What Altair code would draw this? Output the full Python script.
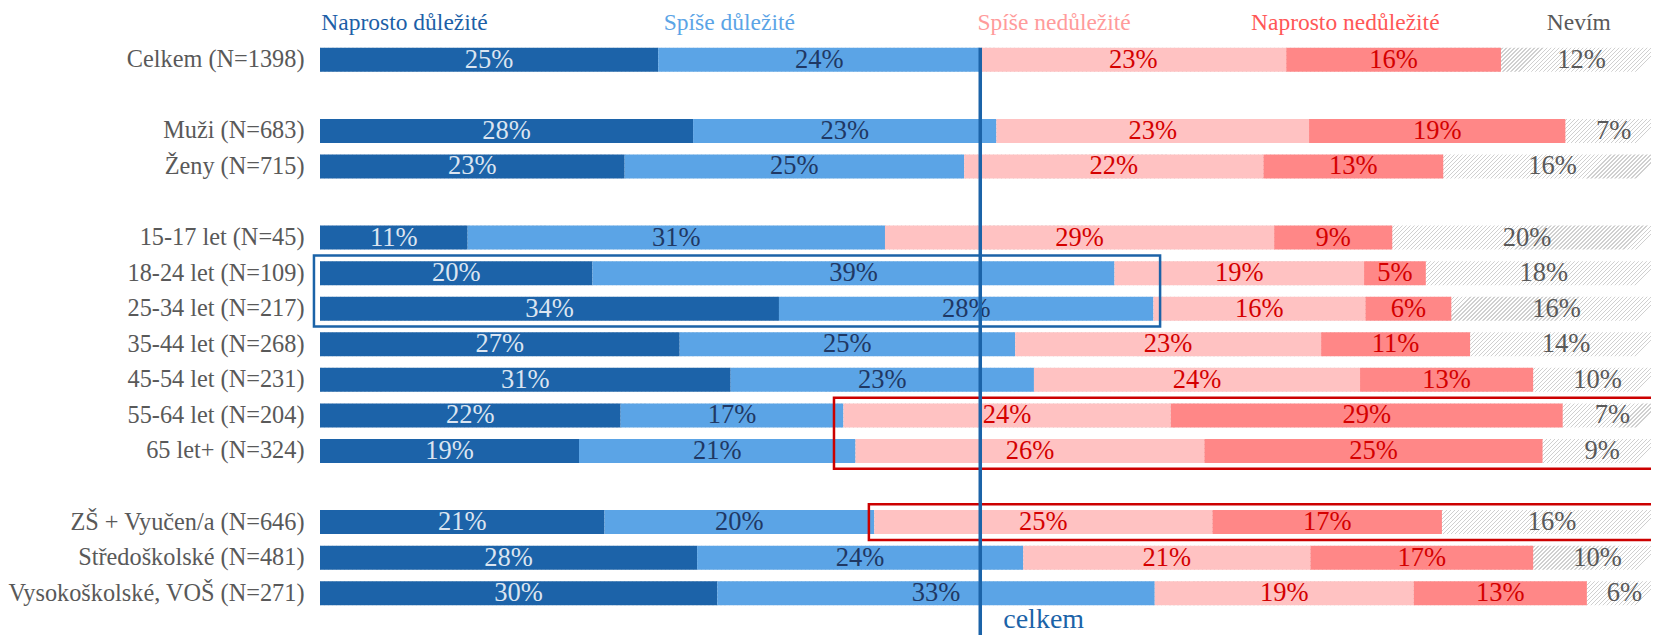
import json
import altair as alt
import pandas as pd

# ---------------- data ----------------
rows = [
    "Celkem (N=1398)", "",
    "Muži (N=683)", "Ženy (N=715)", "",
    "15-17 let (N=45)", "18-24 let (N=109)", "25-34 let (N=217)", "35-44 let (N=268)",
    "45-54 let (N=231)", "55-64 let (N=204)", "65 let+ (N=324)", "",
    "ZŠ + Vyučen/a (N=646)", "Středoškolské (N=481)", "Vysokoškolské, VOŠ (N=271)",
]
categories = ["Naprosto důležité", "Spíše důležité", "Spíše nedůležité",
              "Naprosto nedůležité", "Nevím"]

naprosto_dulezite   = [25.2, 27.8, 22.7, 11.0, 20.3, 34.2, 26.8, 30.6, 22.4, 19.3, 21.2, 28.1, 29.6]
spise_dulezite      = [24.0, 22.6, 25.3, 31.1, 38.9, 27.9, 25.0, 22.6, 16.6, 20.6, 20.1, 24.3, 32.6]
spise_nedulezite    = [22.8, 23.3, 22.3, 29.0, 18.6, 15.8, 22.8, 24.3, 24.4, 26.0, 25.2, 21.4, 19.3]
naprosto_nedulezite = [16.0, 19.1, 13.4, 8.8, 4.6, 6.4, 11.1, 12.9, 29.2, 25.2, 17.1, 16.6, 12.9]
nevim               = [12.0, 7.2, 16.3, 20.1, 17.6, 15.7, 14.3, 9.6, 7.4, 8.9, 16.4, 9.6, 5.6]

# header label positions (percent of axis)
header_pos = [6.3, 30.5, 54.7, 76.4, 93.8]

# highlighted boxes (annotation)
box_top_row = ["18-24 let (N=109)", "55-64 let (N=204)", "ZŠ + Vyučen/a (N=646)"]
box_bottom_row = ["25-34 let (N=217)", "65 let+ (N=324)", "ZŠ + Vyučen/a (N=646)"]
box_x_start = [-0.45, 38.3, 40.9]
box_x_end = [62.6, 101.0, 101.0]

# ---------------- styling ----------------
FONT = "Liberation Serif"
PX_PER_PCT = 13.42
W, H = 1331, 569
FULL_W = 100 * PX_PER_PCT
BAR = 24
bar_colors = ["#1c63a9", "#5ba4e6", "#ffc2c2", "#ff8787"]
text_colors = ["#dbe5f1", "#1f3864", "#d40000", "#d40000", "#595959"]
header_colors = ["#1d5fa7", "#5ba4e6", "#ff9b9b", "#ff5757", "#595959"]
BLUE = "#1b63a8"
RED = "#cc0000"

# ---------------- frames ----------------
groups = [r for r in rows if r]
series = [naprosto_dulezite, spise_dulezite, spise_nedulezite, naprosto_nedulezite, nevim]
recs = []
for gi, g in enumerate(groups):
    cum = 0.0
    for ci, c in enumerate(categories):
        v = series[ci][gi]
        recs.append({"group": g, "idx": rows.index(g), "cat": c, "val": v,
                     "start": cum, "end": cum + v, "mid": cum + v / 2, "base": 0.0})
        cum += v
seg = pd.DataFrame(recs)
seg_main = seg[seg.cat != "Nevím"]
seg_nev = seg[seg.cat == "Nevím"]

hdr = pd.DataFrame({"cat": categories, "hx": header_pos})

boxes = pd.DataFrame({
    "y0": [rows.index(r) - 0.5 for r in box_top_row],
    "y1": [rows.index(r) + 0.5 for r in box_bottom_row],
    "x0": box_x_start,
    "x1": box_x_end,
})
line_df = pd.DataFrame({"line": [naprosto_dulezite[0] + spise_dulezite[0]]})

# hatch pattern via striped linear gradient
N = 335
stops = []
for i in range(N):
    a, b, c = i / N, (i + 0.3) / N, (i + 1) / N
    stops += [
        {"offset": a, "color": "#d0d0d0"},
        {"offset": b, "color": "#d0d0d0"},
        {"offset": b, "color": "#ffffff"},
        {"offset": c, "color": "#ffffff"},
    ]
hatch = {"gradient": "linear", "x1": 0, "y1": 0, "x2": 1, "y2": BAR / FULL_W, "stops": stops}

x_scale = alt.Scale(domain=[0, W / PX_PER_PCT], nice=False, zero=False, padding=0)
y_scale = alt.Scale(domain=[-0.5, len(rows) - 0.5], reverse=True, nice=False, zero=False, padding=0)
label_expr = json.dumps(rows, ensure_ascii=False) + "[datum.value]"
y_axis = alt.Axis(values=[i for i, r in enumerate(rows) if r], labelExpr=label_expr,
                  ticks=False, domain=False, grid=False, title=None, labelFont=FONT,
                  labelFontSize=24.3, labelColor="#595959", labelPadding=16,
                  labelOverlap=False, labelFlush=False, labelLimit=0)

hatch_layer = alt.Chart(seg_nev).mark_bar(orient="horizontal", size=BAR, fill=hatch, clip=True).encode(
    x=alt.X("base:Q", scale=x_scale, axis=None),
    x2="end:Q",
    y=alt.Y("idx:Q", scale=y_scale, axis=y_axis),
)

bars = alt.Chart(seg_main).mark_bar(orient="horizontal", size=BAR, clip=True).encode(
    x=alt.X("start:Q", scale=x_scale, axis=None),
    x2="end:Q",
    y=alt.Y("idx:Q", scale=y_scale, axis=y_axis),
    color=alt.Color("cat:N", scale=alt.Scale(domain=categories[:4], range=bar_colors), legend=None),
)

labels = alt.Chart(seg).transform_calculate(
    label="format(datum.val, '.0f') + '%'"
).mark_text(font=FONT, fontSize=26.5, baseline="middle", align="center").encode(
    x=alt.X("mid:Q", scale=x_scale, axis=None),
    y=alt.Y("idx:Q", scale=y_scale, axis=y_axis),
    text="label:N",
    color=alt.Color("cat:N", scale=alt.Scale(domain=categories, range=text_colors), legend=None),
)

blue_box = alt.Chart(boxes.iloc[:1]).mark_rect(filled=False, stroke=BLUE, strokeWidth=2.5).encode(
    x=alt.X("x0:Q", scale=x_scale, axis=None), x2="x1:Q",
    y=alt.Y("y0:Q", scale=y_scale, axis=y_axis), y2="y1:Q",
)
red_boxes = alt.Chart(boxes.iloc[1:]).mark_rect(filled=False, stroke=RED, strokeWidth=2.5, clip=True).encode(
    x=alt.X("x0:Q", scale=x_scale, axis=None), x2="x1:Q",
    y=alt.Y("y0:Q", scale=y_scale, axis=y_axis), y2="y1:Q",
)

rule = alt.Chart(line_df).mark_rule(color=BLUE, strokeWidth=3.5).encode(
    x=alt.X("line:Q", scale=x_scale, axis=None),
    y=alt.value((H / len(rows)) / 2 - BAR / 2),
    y2=alt.value(H + 24),
)
celkem_txt = alt.Chart(line_df).mark_text(font=FONT, fontSize=28, align="left", baseline="alphabetic",
                                          dx=23, color=BLUE).encode(
    x=alt.X("line:Q", scale=x_scale, axis=None),
    y=alt.value(H + 17),
    text=alt.value("celkem"),
)

headers = alt.Chart(hdr).mark_text(font=FONT, fontSize=23.5, align="center", baseline="middle").encode(
    x=alt.X("hx:Q", scale=x_scale, axis=None),
    y=alt.value(-19),
    text="cat:N",
    color=alt.Color("cat:N", scale=alt.Scale(domain=categories, range=header_colors), legend=None),
)

chart = alt.layer(
    hatch_layer, bars, labels, blue_box, red_boxes, rule, celkem_txt, headers
).resolve_scale(color="independent").properties(
    width=W, height=H,
    padding={"left": 312, "top": 34, "right": 0, "bottom": 24},
    autosize=alt.AutoSizeParams(type="none"),
).configure_view(stroke=None)

chart.save("out.html", embed_options={"renderer": "svg", "actions": False})
